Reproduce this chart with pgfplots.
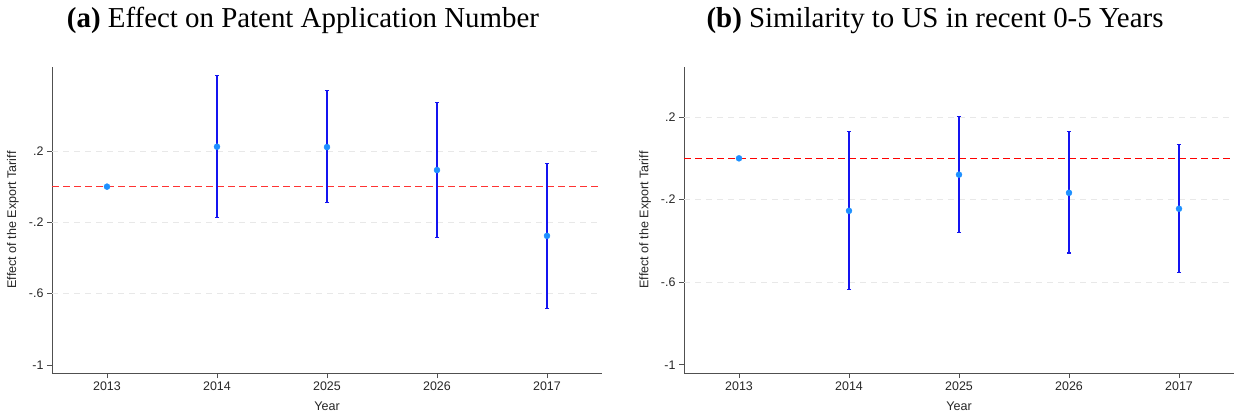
\documentclass[border=0pt]{standalone}
\usepackage{pgfplots}
\pgfplotsset{compat=1.18}
\usepackage{pgfplotstable}
\usepackage{fontspec}
\setmainfont{Liberation Serif}
\newfontfamily\arial{Liberation Sans}
\definecolor{dotblue}{RGB}{30,144,255}
\definecolor{barblue}{RGB}{20,20,240}
\definecolor{axgray}{RGB}{80,80,80}

\pgfplotstableread{
x y ep em
1 0.224 0.401 0.396
2 0.222 0.317 0.313
3 0.093 0.381 0.380
4 -0.276 0.407 0.407
}\ciA
\pgfplotstableread{
x y
0 0
1 0.224
2 0.222
3 0.093
4 -0.276
}\ptA
\pgfplotstableread{
x y ep em
1 -0.254 0.384 0.382
2 -0.079 0.283 0.281
3 -0.167 0.295 0.291
4 -0.244 0.310 0.307
}\ciB
\pgfplotstableread{
x y
0 0
1 -0.254
2 -0.079
3 -0.167
4 -0.244
}\ptB

\pgfplotsset{
  statapanel/.style={
    scale only axis, width=550bp, height=306bp, anchor=south west,
    axis lines*=left,
    axis line style={axgray, line width=0.9bp, -},
    xmin=-0.5, xmax=4.5,
    xtick={0,1,2,3,4}, xticklabels={2013,2014,2025,2026,2017},
    tick align=outside, major tick length=5bp,
    tick style={axgray, line width=0.9bp},
    ytick={-1}, yticklabels={-1},
    extra y ticks={-0.6,-0.2,0.2}, extra y tick labels={-.6,-.2,.2},
    extra y tick style={ymajorgrids=true,
      grid style={black!9, line width=0.9bp, dash pattern=on 6bp off 5bp}},
    ticklabel style={font=\arial\fontsize{12.5}{14}\selectfont, text=black!85},
    xlabel={Year}, ylabel={Effect of the Export Tariff},
    every axis x label/.style={at={(axis description cs:0.5,0)}, anchor=center, yshift=-33bp,
      font=\arial\fontsize{12.6}{14}\selectfont, text=black!85},
    every axis y label/.style={at={(axis description cs:0,0.5)}, anchor=center, xshift=-39bp, rotate=90,
      font=\arial\fontsize{12.6}{14}\selectfont, text=black!85},
    clip=false,
  },
  cistyle/.style={draw=none, mark=none,
    error bars/.cd, y dir=both, y explicit,
    error bar style={draw=barblue, line width=1.1bp},
    error mark=|, error mark options={draw=barblue, line width=1.1bp, mark size=2.2bp}},
}

\begin{document}
\begin{tikzpicture}
\useasboundingbox (0,0) rectangle (1234bp,414bp);
\node[anchor=base, font=\fontsize{29}{32}\selectfont] at (303bp,386.5bp) {\textbf{(a)} Effect on Patent Application Number};
\node[anchor=base, font=\fontsize{29}{32}\selectfont] at (935bp,386.5bp) {\textbf{(b)} Similarity to US in recent 0-5 Years};

\begin{axis}[statapanel, at={(52bp,41bp)}, ymin=-1.045, ymax=0.671]
\addplot[red!80!white, line width=1.5bp, dash pattern=on 7bp off 4bp] coordinates {(-0.5,0) (4.5,0)};
\addplot[cistyle] table[x=x, y=y, y error plus=ep, y error minus=em] {\ciA};
\addplot[only marks, mark=*, mark size=3bp, color=dotblue] table[x=x, y=y] {\ptA};
\end{axis}

\begin{axis}[statapanel, at={(684bp,41bp)}, ymin=-1.039, ymax=0.442]
\addplot[red, line width=1.3bp, dash pattern=on 7bp off 4bp] coordinates {(-0.5,0) (4.5,0)};
\addplot[cistyle] table[x=x, y=y, y error plus=ep, y error minus=em] {\ciB};
\addplot[only marks, mark=*, mark size=3bp, color=dotblue] table[x=x, y=y] {\ptB};
\end{axis}
\end{tikzpicture}
\end{document}
